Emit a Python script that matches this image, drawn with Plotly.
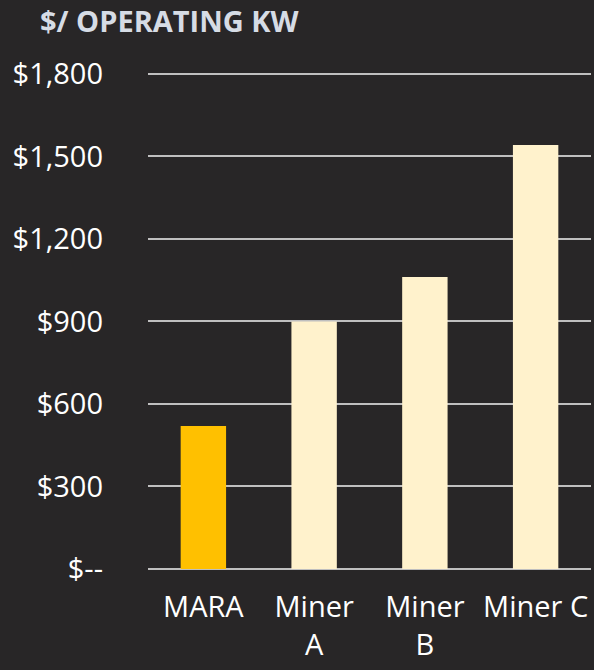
import plotly.graph_objects as go

categories = ["MARA", "Miner A", "Miner B", "Miner C"]
cost_per_kw = [520, 900, 1062, 1542]
x_labels = ["MARA", "Miner<br>A", "Miner<br>B", "Miner C"]
bar_colors = ["#FFC000", "#FFF2CC", "#FFF2CC", "#FFF2CC"]

y_ticks = [0, 300, 600, 900, 1200, 1500, 1800]
y_labels = ["$--", "$300", "$600", "$900", "$1,200", "$1,500", "$1,800"]

bg = "#282627"

fig = go.Figure()

fig.add_trace(go.Bar(
    x=categories,
    y=cost_per_kw,
    marker=dict(color=bar_colors, line=dict(width=0)),
    hoverinfo="skip",
))

fig.update_layout(
    width=594,
    height=670,
    paper_bgcolor=bg,
    plot_bgcolor=bg,
    margin=dict(l=148, r=3, t=72, b=101),
    bargap=0.59,
    showlegend=False,
    font=dict(family="Open Sans", color="#FFFFFF", size=28),
    title=dict(
        text="<b>$/ OPERATING KW</b>",
        font=dict(family="Open Sans", size=29, color="#D6DCE5"),
        xref="container", yref="container",
        x=40 / 594, xanchor="left",
        y=1 - 22 / 670, yanchor="middle",
    ),
    xaxis=dict(
        tickvals=categories,
        ticktext=x_labels,
        showgrid=False,
        showline=False,
        ticks="",
        automargin=False,
        ticklabelstandoff=18,
        tickfont=dict(size=29, color="#FFFFFF"),
    ),
    yaxis=dict(
        range=[0, 1807],
        tickvals=y_ticks,
        ticktext=y_labels,
        showgrid=True,
        gridcolor="#BFBFBF",
        gridwidth=1.6,
        zeroline=True,
        zerolinecolor="#BFBFBF",
        zerolinewidth=1.6,
        ticks="",
        automargin=False,
        ticklabelstandoff=44,
        tickfont=dict(size=29, color="#FFFFFF"),
    ),
)

fig.write_html(
    "out.html",
    config={"displayModeBar": False},
    post_script="document.body.style.margin='0';",
)
